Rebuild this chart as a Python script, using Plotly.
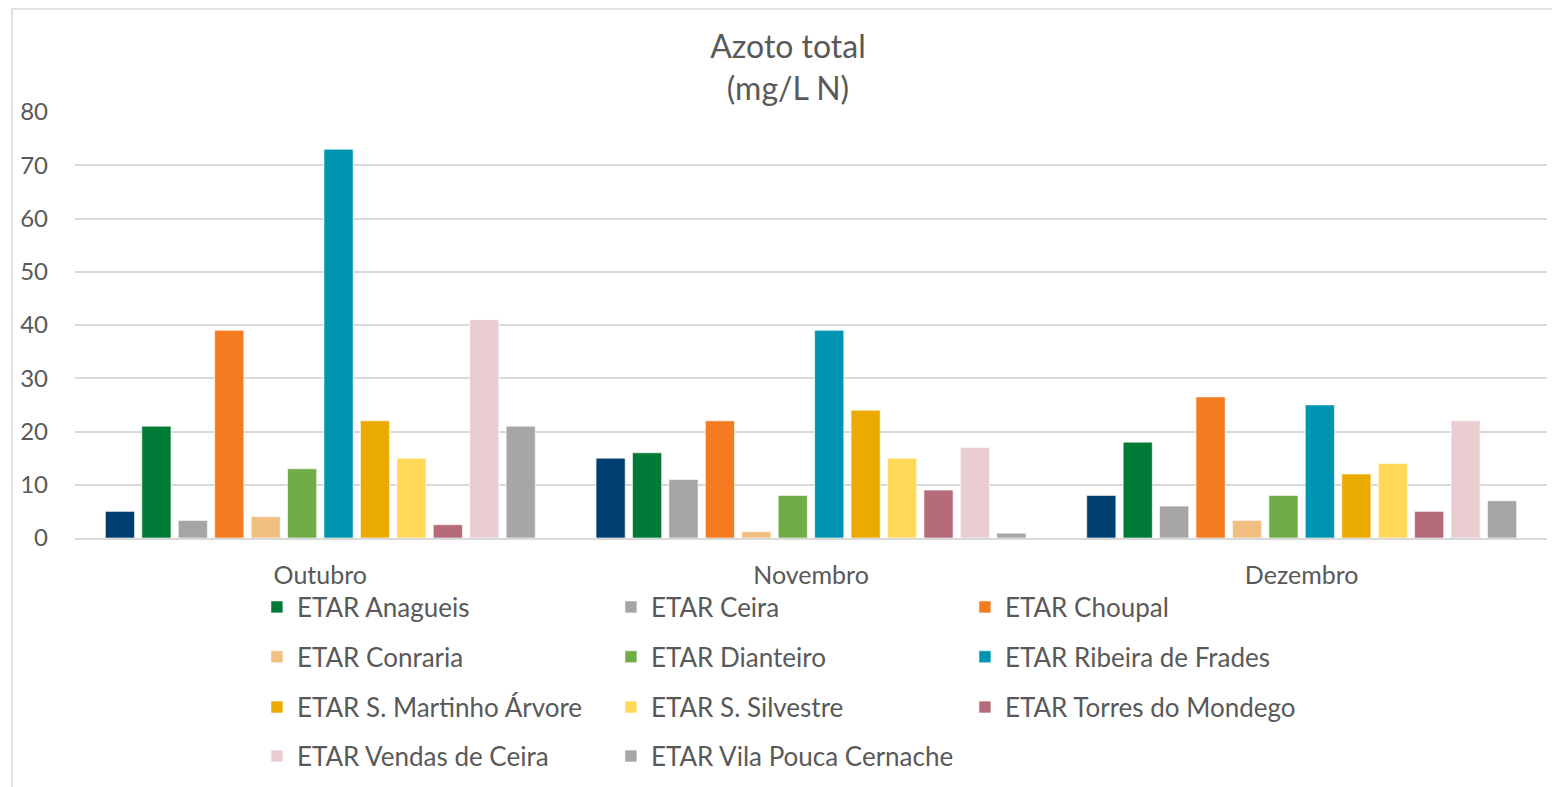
import plotly.graph_objects as go

# dados (mg/L N)
meses = ["Outubro", "Novembro", "Dezembro"]

etar_1 = [5, 15, 8]              # série sem entrada na legenda
anagueis = [21, 16, 18]
ceira = [3.3, 11, 6]
choupal = [39, 22, 26.5]
conraria = [4, 1.2, 3.3]
dianteiro = [13, 8, 8]
ribeira_frades = [73, 39, 25]
s_martinho = [22, 24, 12]
s_silvestre = [15, 15, 14]
torres_mondego = [2.5, 9, 5]
vendas_ceira = [41, 17, 22]
vila_pouca = [21, 0.9, 7]

# nome, valores, cor, legenda (uma legenda por linha, para o espaçamento)
series = [
    ("ETAR", etar_1, "#003F72", None),
    ("ETAR Anagueis", anagueis, "#007A37", "legend"),
    ("ETAR Ceira", ceira, "#A5A5A5", "legend"),
    ("ETAR Choupal", choupal, "#F47B20", "legend"),
    ("ETAR Conraria", conraria, "#F2BF82", "legend2"),
    ("ETAR Dianteiro", dianteiro, "#70AD47", "legend2"),
    ("ETAR Ribeira de Frades", ribeira_frades, "#0094B3", "legend2"),
    ("ETAR S. Martinho Árvore", s_martinho, "#EBAA00", "legend3"),
    ("ETAR S. Silvestre", s_silvestre, "#FFD957", "legend3"),
    ("ETAR Torres do Mondego", torres_mondego, "#B56B79", "legend3"),
    ("ETAR Vendas de Ceira", vendas_ceira, "#EACDD0", "legend4"),
    ("ETAR Vila Pouca Cernache", vila_pouca, "#A6A6A6", "legend4"),
]

cinza = "#595959"
fonte = "Lato"

fig = go.Figure()
for nome, valores, cor, leg in series:
    fig.add_trace(go.Bar(
        x=meses, y=valores, name=nome,
        showlegend=leg is not None, legend=leg or "legend",
        marker=dict(color=cor, line=dict(color="rgba(255,255,255,0.6)", width=1)),
    ))

# moldura da área do gráfico
fig.add_shape(type="rect", xref="paper", yref="paper",
              x0=-0.0428, x1=1.0082, y0=-0.7, y1=1.2418,
              line=dict(color="#D9D9D9", width=1.5), layer="below")

def legenda(y):
    return dict(orientation="h", x=0.1236, xanchor="left", y=y, yanchor="middle",
                entrywidth=309, entrywidthmode="pixels", itemwidth=30,
                font=dict(size=26, color=cinza), traceorder="normal",
                bgcolor="rgba(0,0,0,0)")

fig.update_layout(
    width=1560, height=787,
    margin=dict(l=67, r=21, t=104, b=257),
    paper_bgcolor="white", plot_bgcolor="white",
    font=dict(family=fonte, color=cinza),
    title=dict(text="Azoto total<br>(mg/L N)", x=0.5, xanchor="center",
               y=0.9365, yanchor="top", font=dict(size=32, color=cinza)),
    barmode="group", bargap=0.109, bargroupgap=0.2,
    yaxis=dict(range=[0, 80], dtick=10, showgrid=True, gridcolor="#D9D9D9",
               gridwidth=1.5, zeroline=False, showline=False,
               tickfont=dict(size=24, color=cinza), ticklabelstandoff=26),
    xaxis=dict(showline=True, linecolor="#D9D9D9", linewidth=1.5,
               tickfont=dict(size=25, color=cinza), ticklabelstandoff=14),
    legend=legenda(-0.162),
    legend2=legenda(-0.279),
    legend3=legenda(-0.397),
    legend4=legenda(-0.512),
)

fig.write_html("out.html")
